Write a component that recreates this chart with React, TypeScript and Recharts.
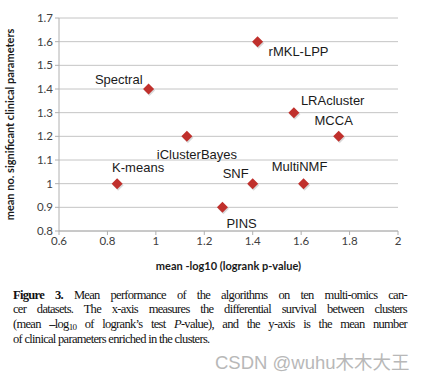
import React from 'react';
import { ScatterChart, Scatter, XAxis, YAxis, CartesianGrid, LabelList, Label } from 'recharts';

const methods = ['rMKL-LPP', 'Spectral', 'LRAcluster', 'MCCA', 'iClusterBayes', 'K-means', 'SNF', 'MultiNMF', 'PINS'];
const survival = [1.42, 0.97, 1.57, 1.755, 1.128, 0.84, 1.4, 1.61, 1.275];
const clinical = [1.6, 1.4, 1.3, 1.2, 1.2, 1.0, 1.0, 1.0, 0.9];
const xTicks = [0.6, 0.8, 1, 1.2, 1.4, 1.6, 1.8, 2];
const yTicks = [0.8, 0.9, 1, 1.1, 1.2, 1.3, 1.4, 1.5, 1.6, 1.7];

const data = methods.map((name, i) => ({ name, x: survival[i], y: clinical[i] }));

// where each method name sits relative to its marker
const labelPlace: Record<string, { dx: number; dy: number; anchor: 'start' | 'middle' | 'end' }> = {
  'rMKL-LPP': { dx: 11, dy: 10, anchor: 'start' },
  Spectral: { dx: -6, dy: -10, anchor: 'end' },
  LRAcluster: { dx: 7, dy: -12, anchor: 'start' },
  MCCA: { dx: -5, dy: -16, anchor: 'middle' },
  iClusterBayes: { dx: -30, dy: 18, anchor: 'start' },
  'K-means': { dx: -5, dy: -16, anchor: 'start' },
  SNF: { dx: -4, dy: -10, anchor: 'end' },
  MultiNMF: { dx: -4, dy: -17, anchor: 'middle' },
  PINS: { dx: 4, dy: 16, anchor: 'start' },
};

const Diamond = (props: any) => {
  const { cx, cy } = props;
  const r = 5.5;
  const pts = (ox: number, oy: number) =>
    `${cx + ox},${cy + oy - r} ${cx + ox + r},${cy + oy} ${cx + ox},${cy + oy + r} ${cx + ox - r},${cy + oy}`;
  return (
    <g>
      <polygon points={pts(1, 1.5)} fill="#000" opacity={0.15} />
      <polygon points={pts(0, 0)} fill="#c0302c" />
    </g>
  );
};

const NameLabel = (props: any) => {
  const { x, y, width, height, value } = props;
  const p = labelPlace[value];
  const cx = x + width / 2;
  const cy = y + height / 2;
  return (
    <text
      x={cx + p.dx}
      y={cy + p.dy}
      textAnchor={p.anchor}
      dominantBaseline="central"
      fontFamily="'Liberation Sans', Arial, sans-serif"
      fontSize={13}
      fill="#1a1a1a"
    >
      {value}
    </text>
  );
};

const tickFont = { fontFamily: 'Lato, sans-serif', fontSize: 11.5, fill: '#404040' };
const fmt = (v: number) => String(Number(v.toFixed(1)));

const justified = { textAlign: 'justify' as const, textAlignLast: 'justify' as const, whiteSpace: 'nowrap' as const };

export default function App() {
  return (
    <div style={{ position: 'absolute', left: 0, top: 0, width: 427, height: 378, background: '#fff' }}>
      <ScatterChart width={427} height={280} margin={{ top: 18, right: 29, bottom: 29, left: 24 }}>
        <CartesianGrid horizontal vertical={false} stroke="#c4c4c4" />
        <XAxis
          type="number"
          dataKey="x"
          domain={[0.6, 2]}
          ticks={xTicks}
          tickFormatter={fmt}
          stroke="#b0b0b0"
          tickSize={4}
          tick={tickFont}
          height={20}
          interval={0}
        >
          <Label
            value="mean -log10 (logrank p-value)"
            position="insideBottom"
            offset={-19}
            style={{ fontFamily: 'Lato, sans-serif', fontSize: 11, fontWeight: 700, fill: '#1a1a1a' }}
          />
        </XAxis>
        <YAxis
          type="number"
          dataKey="y"
          domain={[0.8, 1.7]}
          ticks={yTicks}
          tickFormatter={fmt}
          stroke="#b0b0b0"
          tickSize={4}
          tick={tickFont}
          width={35}
          interval={0}
        >
          <Label
            value="mean no. significant clinical parameters"
            angle={-90}
            position="insideLeft"
            offset={-14}
            style={{ textAnchor: 'middle', fontFamily: 'Lato, sans-serif', fontSize: 11, fontWeight: 700, fill: '#1a1a1a' }}
          />
        </YAxis>
        <Scatter data={data} shape={Diamond} isAnimationActive={false}>
          <LabelList dataKey="name" content={NameLabel} />
        </Scatter>
      </ScatterChart>
      <div
        style={{
          position: 'absolute',
          left: 13,
          top: 288,
          width: 394,
          fontFamily: "'Liberation Serif', 'Times New Roman', serif",
          fontSize: 12.5,
          letterSpacing: '-0.7px',
          lineHeight: '14.4px',
          color: '#111',
        }}
      >
        <div style={justified}>
          <b>Figure 3.</b> Mean performance of the algorithms on ten multi-omics can-
        </div>
        <div style={justified}>cer datasets. The x-axis measures the differential survival between clusters</div>
        <div style={justified}>
          (mean <b>–</b>log<span style={{ fontSize: 9, position: 'relative', top: 2 }}>10</span> of logrank’s test{' '}
          <i>P</i>-value), and the y-axis is the mean number
        </div>
        <div style={{ whiteSpace: 'nowrap' }}>of clinical parameters enriched in the clusters.</div>
      </div>
      <div
        style={{
          position: 'absolute',
          left: 215,
          top: 348,
          fontFamily: "'Liberation Sans', 'Noto Sans CJK SC', sans-serif",
          fontSize: 18.5,
          color: '#b8b8b8',
          whiteSpace: 'nowrap',
        }}
      >
        CSDN @wuhu木木大王
      </div>
    </div>
  );
}
